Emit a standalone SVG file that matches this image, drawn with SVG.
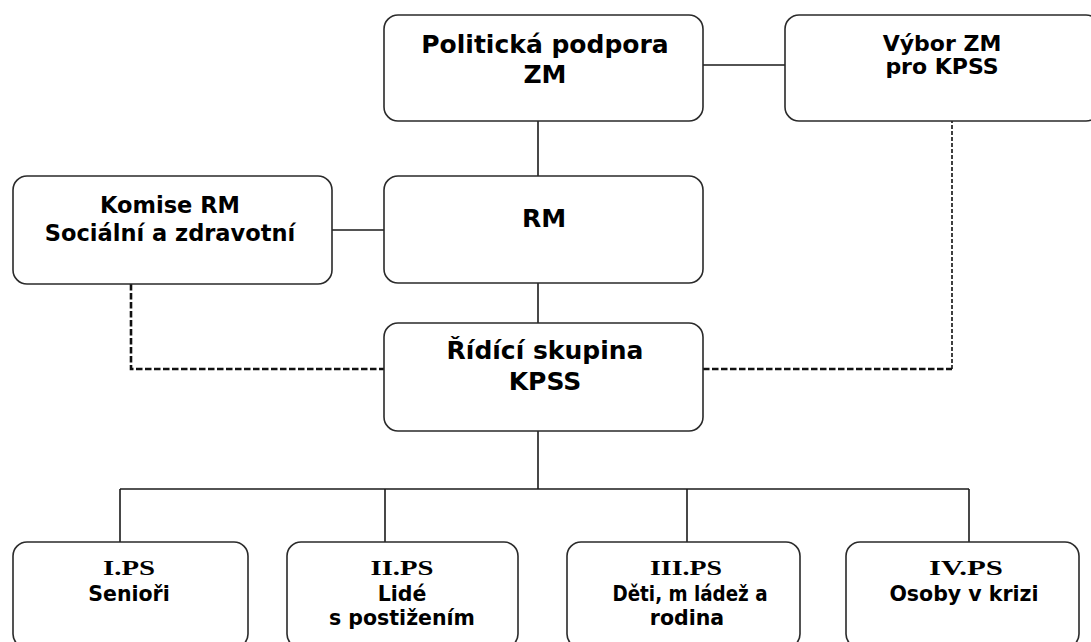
<svg xmlns="http://www.w3.org/2000/svg" width="1091" height="642" viewBox="0 0 1091 642">
<style>
.box{fill:#fff;stroke:#2a2a2a;stroke-width:1.6}
.t{font-family:"DejaVu Sans","Verdana",sans-serif;font-weight:bold;fill:#000;text-anchor:middle}
.s{font-family:"Liberation Serif","Times New Roman",serif;font-weight:bold;fill:#000;text-anchor:middle;font-size:22px}
.big{font-size:25px}
.mid{font-size:22.5px}
.sm{font-size:20.5px}
.line{fill:none;stroke:#1a1a1a;stroke-width:1.6}
.dash{fill:none;stroke:#111;stroke-width:2.6;stroke-dasharray:6.5 2.5}
.dash2{fill:none;stroke:#111;stroke-width:1.6;stroke-dasharray:4 2}
</style>
<rect width="1091" height="642" fill="#fff"/>
<g id="connectors">
<line class="line" x1="703" y1="65" x2="785" y2="65"/>
<line class="line" x1="538" y1="121" x2="538" y2="176"/>
<line class="line" x1="332" y1="230" x2="384" y2="230"/>
<line class="line" x1="538" y1="283" x2="538" y2="323"/>
<line class="line" x1="538" y1="431" x2="538" y2="489"/>
<line class="line" x1="120" y1="489" x2="969" y2="489"/>
<line class="line" x1="120" y1="489" x2="120" y2="542"/>
<line class="line" x1="385" y1="489" x2="385" y2="542"/>
<line class="line" x1="687" y1="489" x2="687" y2="542"/>
<line class="line" x1="969" y1="489" x2="969" y2="542"/>
<polyline class="dash" points="131,284 131,369 384,369"/>
<line class="dash" x1="703" y1="369" x2="952" y2="369"/>
<line class="dash2" x1="952" y1="369" x2="952" y2="121"/>
</g>
<g id="politicka">
<rect class="box" x="384" y="15" width="319" height="106" rx="14"/>
<text class="t big" x="545" y="53">Politická podpora</text>
<text class="t big" x="545" y="83">ZM</text>
</g>
<g id="vybor">
<rect class="box" x="785" y="15" width="315" height="106" rx="14"/>
<text class="t" style="font-size:22px" x="942" y="51">Výbor ZM</text>
<text class="t" style="font-size:22px" x="942" y="74">pro KPSS</text>
</g>
<g id="komise">
<rect class="box" x="13" y="176" width="319" height="108" rx="14"/>
<text class="t mid" x="170" y="213">Komise RM</text>
<text class="t mid" x="170" y="241">Sociální a zdravotní</text>
</g>
<g id="rm">
<rect class="box" x="384" y="176" width="319" height="107" rx="14"/>
<text class="t big" x="544" y="227">RM</text>
</g>
<g id="ridici">
<rect class="box" x="384" y="323" width="319" height="108" rx="14"/>
<text class="t big" x="545" y="359">Řídící skupina</text>
<text class="t big" x="545" y="390">KPSS</text>
</g>
<g id="ps1">
<rect class="box" x="13" y="542" width="235" height="106" rx="14"/>
<text class="s" x="129" y="575" textLength="52" lengthAdjust="spacingAndGlyphs">I.PS</text>
<text class="t sm" x="129" y="601">Senioři</text>
</g>
<g id="ps2">
<rect class="box" x="287" y="542" width="231" height="106" rx="14"/>
<text class="s" x="402" y="575" textLength="63" lengthAdjust="spacingAndGlyphs">II.PS</text>
<text class="t sm" x="402" y="601">Lidé</text>
<text class="t sm" x="402" y="625">s postižením</text>
</g>
<g id="ps3">
<rect class="box" x="567" y="542" width="233" height="106" rx="14"/>
<text class="s" x="686" y="575" textLength="72" lengthAdjust="spacingAndGlyphs">III.PS</text>
<text class="t sm" x="690" y="601" textLength="155" lengthAdjust="spacingAndGlyphs">Děti, m ládež a</text>
<text class="t sm" x="687" y="625">rodina</text>
</g>
<g id="ps4">
<rect class="box" x="846" y="542" width="233" height="106" rx="14"/>
<text class="s" x="966" y="575" textLength="74" lengthAdjust="spacingAndGlyphs">IV.PS</text>
<text class="t sm" x="964" y="601">Osoby v krizi</text>
</g>
</svg>
